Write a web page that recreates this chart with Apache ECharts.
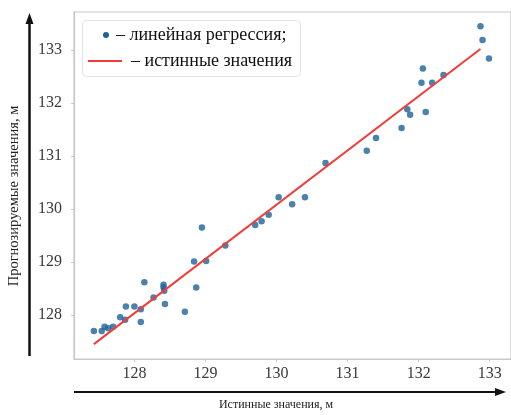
<!DOCTYPE html>
<html>
<head>
<meta charset="utf-8">
<script src="https://cdn.jsdelivr.net/npm/echarts@6/dist/echarts.min.js"></script>
<style>
  html, body { margin: 0; padding: 0; background: #fff; }
  #chart { width: 511px; height: 415px; }
</style>
</head>
<body>
<div id="chart"></div>
<script>
// true values (x) vs predicted values (y), metres
const trueVals = [
  127.43, 127.54, 127.58, 127.63, 127.70, 127.80, 127.88, 127.87, 128.00, 128.09,
  128.09, 128.14, 128.27, 128.41, 128.41, 128.42, 128.43, 128.71, 128.84, 128.87,
  128.95, 129.01, 129.28, 129.70, 129.79, 129.89, 130.03, 130.22, 130.40, 130.69,
  131.27, 131.40, 131.76, 131.84, 131.88, 132.10, 132.04, 132.19, 132.06, 132.35,
  132.87, 132.90, 132.99
];
const predVals = [
  127.70, 127.70, 127.78, 127.75, 127.78, 127.96, 128.16, 127.91, 128.16, 128.11,
  127.87, 128.62, 128.33, 128.57, 128.52, 128.46, 128.21, 128.06, 129.01, 128.52,
  129.65, 129.02, 129.31, 129.70, 129.77, 129.89, 130.22, 130.09, 130.22, 130.87,
  131.10, 131.34, 131.53, 131.88, 131.78, 131.83, 132.38, 132.38, 132.65, 132.53,
  133.45, 133.19, 132.84
];
// reference line ("true values")
const lineX = [127.43, 132.87];
const lineY = [127.45, 133.02];

const xTicks = [128, 129, 130, 131, 132, 133];
const yTicks = [128, 129, 130, 131, 132, 133];

const legendNames = ['– линейная регрессия;', '– истинные значения'];
const xName = 'Истинные значения, м';
const yName = 'Прогнозируемые значения, м';

const serif = '"Liberation Serif", "DejaVu Serif", serif';
const dotColor = '#1d6396';
const lineColor = '#f23c3a';

const chart = echarts.init(document.getElementById('chart'), null, { renderer: 'canvas' });

const axisCommon = {
  type: 'value',
  axisLine: { show: true, lineStyle: { color: '#c8c8c8', width: 1.2 } },
  axisTick: { show: true, length: 3, lineStyle: { color: '#c8c8c8' } },
  splitLine: { show: false },
  axisLabel: {
    color: '#3a3a3a',
    fontFamily: serif,
    fontSize: 16
  }
};

const option = {
  animation: false,
  backgroundColor: '#fff',
  grid: {
    left: 74, top: 12, width: 440, height: 347,
    show: true, borderColor: '#c8c8c8', borderWidth: 1.2, backgroundColor: '#fff'
  },
  xAxis: Object.assign({}, axisCommon, {
    min: 127.15, max: 133.3,
    axisTick: Object.assign({}, axisCommon.axisTick, { customValues: xTicks }),
    axisLabel: Object.assign({}, axisCommon.axisLabel, { customValues: xTicks, margin: 7 })
  }),
  yAxis: Object.assign({}, axisCommon, {
    min: 127.17, max: 133.717,
    axisTick: Object.assign({}, axisCommon.axisTick, { customValues: yTicks }),
    axisLabel: Object.assign({}, axisCommon.axisLabel, { customValues: yTicks, margin: 12 })
  }),
  series: [
    {
      name: legendNames[0],
      type: 'scatter',
      data: trueVals.map((x, i) => [x, predVals[i]]),
      symbolSize: 6.5,
      itemStyle: { color: dotColor },
      z: 3
    },
    {
      name: legendNames[1],
      type: 'line',
      data: lineX.map((x, i) => [x, lineY[i]]),
      showSymbol: false,
      lineStyle: { color: lineColor, width: 2 },
      z: 4
    }
  ],
  graphic: [
    // legend box
    { type: 'rect', left: 82, top: 20, shape: { width: 218, height: 56, r: 4 },
      style: { fill: 'rgba(255,255,255,0.9)', stroke: '#e2e2e2', lineWidth: 1 }, z: 10 },
    { type: 'circle', shape: { cx: 106, cy: 35, r: 3 }, style: { fill: dotColor }, z: 11 },
    { type: 'text', x: 116, y: 35,
      style: { text: legendNames[0], font: '18px ' + serif, fill: '#111', verticalAlign: 'middle' }, z: 11 },
    { type: 'line', shape: { x1: 88, y1: 61, x2: 122, y2: 61 },
      style: { stroke: lineColor, lineWidth: 2 }, z: 11 },
    { type: 'text', x: 131, y: 61,
      style: { text: legendNames[1], font: '18px ' + serif, fill: '#111', verticalAlign: 'middle' }, z: 11 },
    // outer arrows
    { type: 'line', shape: { x1: 29.5, y1: 356, x2: 29.5, y2: 22 },
      style: { stroke: '#111', lineWidth: 2.5 } },
    { type: 'polygon', shape: { points: [[29.5, 13], [25.5, 24], [33.5, 24]] },
      style: { fill: '#111' } },
    { type: 'line', shape: { x1: 74, y1: 392, x2: 497, y2: 392 },
      style: { stroke: '#111', lineWidth: 2.2 } },
    { type: 'polygon', shape: { points: [[506, 392], [495, 388], [495, 396]] },
      style: { fill: '#111' } },
    // axis names
    { type: 'text', x: 276, y: 405,
      style: { text: xName, font: '12px ' + serif, fill: '#222', align: 'center', verticalAlign: 'middle' } },
    { type: 'text', x: 14, y: 196, rotation: Math.PI / 2,
      style: { text: yName, font: '14.5px ' + serif, fill: '#222', align: 'center', verticalAlign: 'middle' } }
  ]
};

chart.setOption(option);
</script>
</body>
</html>
